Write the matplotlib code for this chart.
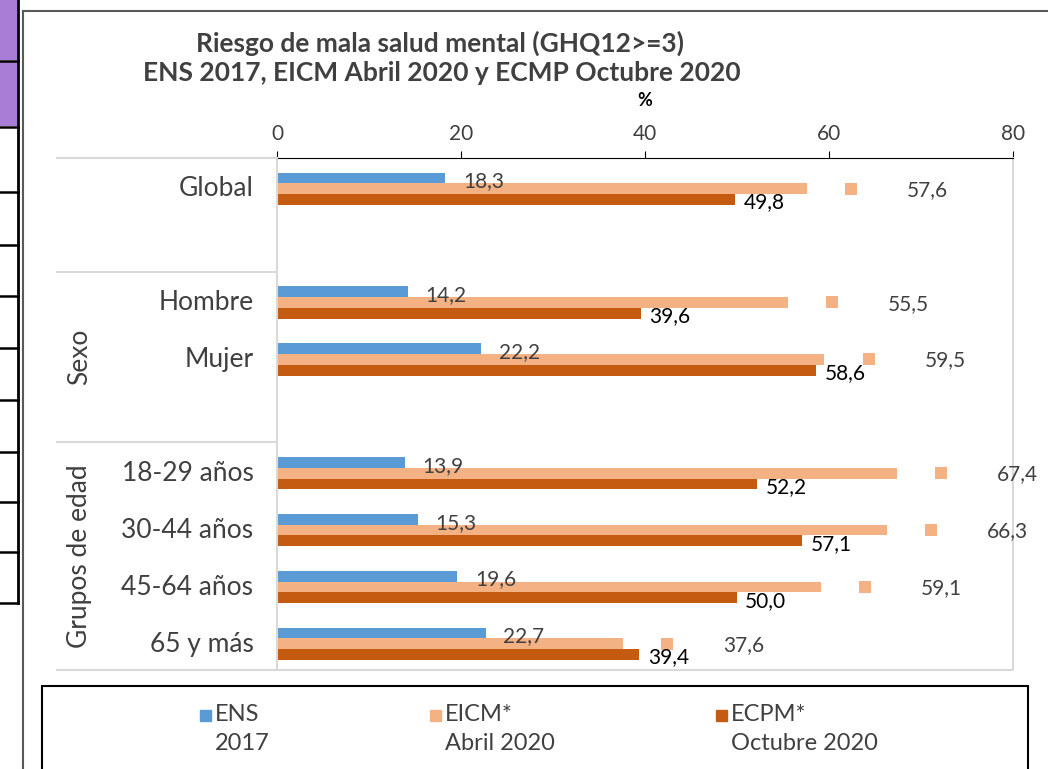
import matplotlib.pyplot as plt
from matplotlib.lines import Line2D
from matplotlib.patches import Rectangle
from matplotlib.transforms import blended_transform_factory

plt.rcParams["font.family"] = ["Lato", "DejaVu Sans"]

# data
categories = ["Global", "Hombre", "Mujer", "18-29 años", "30-44 años", "45-64 años", "65 y más"]
slots = [0, 2, 3, 5, 6, 7, 8]
groups = ["Sexo", "Grupos de edad"]
group_spans = [(1.5, 4.5), (4.5, 8.5)]
ens = [18.3, 14.2, 22.2, 13.9, 15.3, 19.6, 22.7]
eicm = [57.6, 55.5, 59.5, 67.4, 66.3, 59.1, 37.6]
ecpm = [49.8, 39.6, 58.6, 52.2, 57.1, 50.0, 39.4]
series_names = ["ENS\n2017", "EICM*\nAbril 2020", "ECPM*\nOctubre 2020"]
colors = ["#5b9bd5", "#f4b183", "#c55a11"]
xticks = [0, 20, 40, 60, 80]

W, H = 1048, 769


def fx(px):
    return px / W


def fy(py):
    return 1 - py / H


def fmt(v):
    return f"{v:.1f}".replace(".", ",")


fig = plt.figure(figsize=(W / 100, H / 100), dpi=100)
ax = fig.add_axes([fx(277), fy(670), (1013 - 277) / W, (670 - 158) / H])

h = 0.19
shift = 0.04
y_ens = [s - h + shift for s in slots]
y_eicm = [s + shift for s in slots]
y_ecpm = [s + h + shift for s in slots]

ax.barh(y_ens, ens, height=h, color=colors[0])
ax.barh(y_eicm, eicm, height=h, color=colors[1])
ax.barh(y_ecpm, ecpm, height=h, color=colors[2])

# value labels
for y, v in zip(y_ens, ens):
    ax.text(v + 1.9, y + 0.06, fmt(v), va="center", ha="left", fontsize=15, color="#404040")
for y, v in zip(y_eicm, eicm):
    ax.scatter([v + 4.8], [y], marker="s", s=70, color=colors[1], linewidths=0)
    ax.text(v + 10.9, y + 0.02, fmt(v), va="center", ha="left", fontsize=15, color="#404040")
for y, v in zip(y_ecpm, ecpm):
    ax.text(v + 0.9, y + 0.05, fmt(v), va="center", ha="left", fontsize=15, color="black")

ax.set_xlim(0, 80)
ax.set_ylim(8.5, -0.5)
ax.xaxis.tick_top()
ax.set_xticks(xticks)
ax.tick_params(axis="x", direction="out", length=5, color="black", labelsize=15,
               labelcolor="#404040", pad=5)
ax.set_yticks(slots, categories)
ax.tick_params(axis="y", length=0, labelsize=19, labelcolor="#404040", pad=17)

ax.spines["top"].set_color("black")
for side in ["left", "right", "bottom"]:
    ax.spines[side].set_color("#d9d9d9")
    ax.spines[side].set_linewidth(1.5)

# multi-level category separators
trans = blended_transform_factory(fig.transFigure, ax.transData)
for yy in [-0.5, 1.5, 4.5, 8.5]:
    fig.add_artist(Line2D([fx(57), fx(277)], [yy, yy], transform=trans,
                          color="#d9d9d9", lw=1.5, clip_on=False))
for name, (a, b) in zip(groups, group_spans):
    fig.text(fx(80), (a + b) / 2, name, transform=trans, rotation=90,
             ha="center", va="center", fontsize=19, color="#404040")

# titles
fig.text(fx(440), fy(43), "Riesgo de mala salud mental (GHQ12>=3)", ha="center", va="center",
         fontsize=19, fontweight="bold", color="#404040")
fig.text(fx(442), fy(73), "ENS 2017, EICM Abril 2020 y ECMP Octubre 2020", ha="center",
         va="center", fontsize=19, fontweight="bold", color="#404040")
fig.text(fx(645), fy(100), "%", ha="center", va="center", fontsize=13,
         fontweight="bold", color="black")

# legend box
fig.add_artist(Rectangle((fx(42), fy(800)), (1028 - 42) / W, (800 - 686) / H,
                         transform=fig.transFigure, fill=False, edgecolor="black", lw=1.5))
legend_x = [200, 430, 716]
for lx, name, c in zip(legend_x, series_names, colors):
    fig.add_artist(Rectangle((fx(lx), fy(721)), 11 / W, 11 / H,
                             transform=fig.transFigure, color=c))
    fig.text(fx(lx + 15), fy(704), name, ha="left", va="top", fontsize=17,
             color="#404040", linespacing=1.5)

# chart area frame
fig.add_artist(Line2D([fx(23), fx(23)], [fy(11), 0], color="#595959", lw=1.5))
fig.add_artist(Line2D([fx(23), 1], [fy(11), fy(11)], color="#595959", lw=1.5))

# neighbouring spreadsheet cells on the left edge
fig.add_artist(Rectangle((0, fy(60)), fx(17), 60 / H, transform=fig.transFigure,
                         facecolor="#a97cd6", edgecolor="none"))
fig.add_artist(Rectangle((0, fy(126)), fx(17), 64 / H, transform=fig.transFigure,
                         facecolor="#a97cd6", edgecolor="none"))
for ry in [61, 127, 192, 245, 296, 348, 400, 452, 502, 552, 603]:
    fig.add_artist(Line2D([0, fx(18)], [fy(ry), fy(ry)], color="black", lw=1.8))
fig.add_artist(Line2D([fx(18), fx(18)], [1, fy(603)], color="black", lw=2))

fig.savefig("out.png", dpi=100)
